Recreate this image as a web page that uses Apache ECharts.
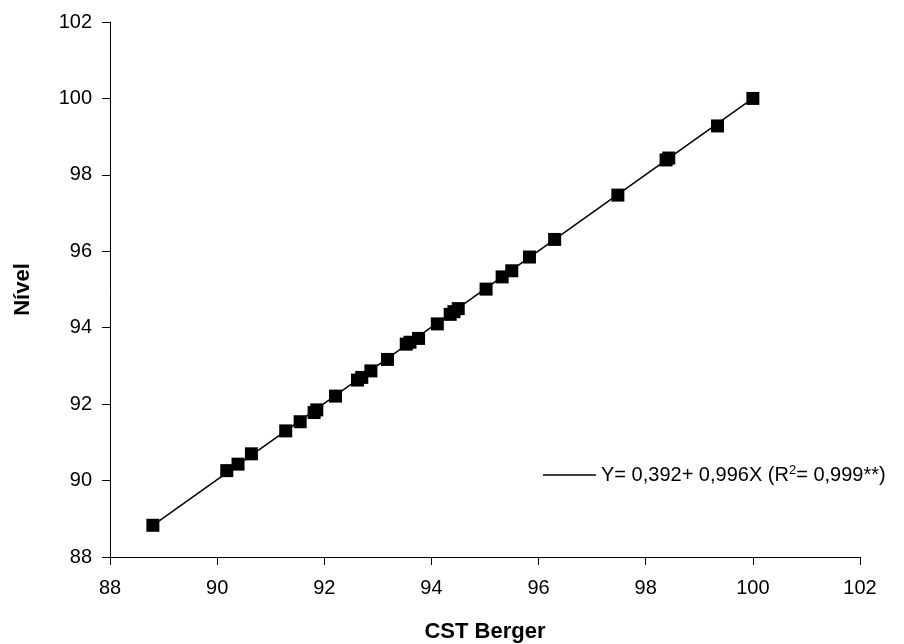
<!DOCTYPE html>
<html>
<head>
<meta charset="utf-8">
<script src="https://cdn.jsdelivr.net/npm/echarts@6/dist/echarts.min.js"></script>
<style>
  html, body { margin: 0; padding: 0; background: #fff; }
  #chart { width: 904px; height: 644px; }
</style>
</head>
<body>
<div id="chart"></div>
<script>
// observed points (CST Berger vs Nível)
const cstBerger = [88.80, 90.18, 90.39, 90.64, 91.28, 91.55, 91.81, 91.86, 92.21, 92.62, 92.70, 92.87, 93.18, 93.53, 93.60, 93.76, 94.11, 94.35, 94.42, 94.50, 95.02, 95.32, 95.50, 95.83, 96.30, 97.48, 98.38, 98.43, 99.34, 100.00]
const nivel     = [88.83, 90.26, 90.43, 90.70, 91.30, 91.54, 91.78, 91.85, 92.21, 92.63, 92.70, 92.87, 93.17, 93.57, 93.62, 93.72, 94.10, 94.35, 94.42, 94.50, 95.01, 95.33, 95.49, 95.85, 96.31, 97.47, 98.39, 98.44, 99.28, 100.00]

// fitted line endpoints
const fitX = [88.80, 100.00]
const fitY = [88.83, 100.00]

const axisTicks = [88, 90, 92, 94, 96, 98, 100, 102]
const fitLabel = 'Y= 0,392+ 0,996X (R{sup|2}= 0,999**)'

const font = '"Liberation Sans", Arial, sans-serif'
const chart = echarts.init(document.getElementById('chart'))

const axisCommon = {
  type: 'value',
  min: axisTicks[0],
  max: axisTicks[axisTicks.length - 1],
  interval: 2,
  splitLine: { show: false },
  axisLine: { show: true, onZero: false, lineStyle: { color: '#000', width: 1 } },
  axisTick: { show: true, inside: false, length: 8, lineStyle: { color: '#000' } },
  nameLocation: 'middle',
  nameTextStyle: { fontFamily: font, fontWeight: 'bold', fontSize: 22, color: '#000' }
}

chart.setOption({
  animation: false,
  backgroundColor: '#fff',
  grid: { left: 110, top: 22, right: 44, bottom: 87, outerBoundsMode: 'none', containLabel: false },
  legend: {
    data: [{ name: 'fit', icon: 'rect' }],
    left: 543,
    top: 464,
    padding: 0,
    itemWidth: 53,
    itemHeight: 1.5,
    itemGap: 0,
    formatter: () => fitLabel,
    textStyle: {
      fontFamily: font, fontSize: 20, color: '#000',
      rich: { sup: { fontFamily: font, fontSize: 13, color: '#000', verticalAlign: 'top', padding: [0, 0, 9, 0] } }
    }
  },
  xAxis: Object.assign({}, axisCommon, {
    name: 'CST Berger',
    nameGap: 64,
    axisLabel: { fontFamily: font, fontSize: 20, color: '#000', margin: 21 }
  }),
  yAxis: Object.assign({}, axisCommon, {
    name: 'Nível',
    nameGap: 76,
    axisLabel: { fontFamily: font, fontSize: 20, color: '#000', margin: 18 }
  }),
  series: [
    {
      name: 'fit',
      type: 'line',
      data: fitX.map((x, i) => [x, fitY[i]]),
      symbol: 'none',
      lineStyle: { color: '#000', width: 1.5 },
      itemStyle: { color: '#000' },
      z: 2
    },
    {
      name: 'obs',
      type: 'scatter',
      data: cstBerger.map((x, i) => [x, nivel[i]]),
      symbol: 'rect',
      symbolSize: 13,
      itemStyle: { color: '#000', opacity: 1 },
      z: 3
    }
  ]
})
</script>
</body>
</html>
